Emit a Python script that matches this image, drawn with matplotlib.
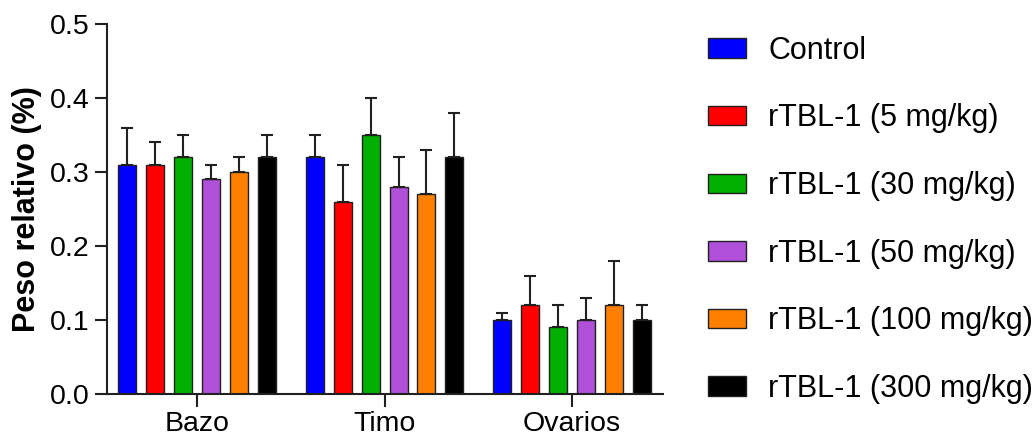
import numpy as np
import matplotlib
matplotlib.use("Agg")
import matplotlib.pyplot as plt

plt.rcParams['font.family'] = ['Liberation Sans', 'DejaVu Sans']

organos = ["Bazo", "Timo", "Ovarios"]
grupos = ["Control", "rTBL-1 (5 mg/kg)", "rTBL-1 (30 mg/kg)",
          "rTBL-1 (50 mg/kg)", "rTBL-1 (100 mg/kg)", "rTBL-1 (300 mg/kg)"]
colores = ["#0000FF", "#FF0000", "#00B000", "#B050D8", "#FF8000", "#000000"]

# media por grupo (filas) y organo (columnas)
medias = [[0.31, 0.32, 0.10],
          [0.31, 0.26, 0.12],
          [0.32, 0.35, 0.09],
          [0.29, 0.28, 0.10],
          [0.30, 0.27, 0.12],
          [0.32, 0.32, 0.10]]
# desviacion (solo hacia arriba)
errores = [[0.05, 0.03, 0.01],
           [0.03, 0.05, 0.04],
           [0.03, 0.05, 0.03],
           [0.02, 0.04, 0.03],
           [0.02, 0.06, 0.06],
           [0.03, 0.06, 0.02]]

fig = plt.figure(figsize=(10.36, 4.38), dpi=100)
ax = fig.add_axes([0.1033, 0.1005, 0.5367, 0.8445])

x = np.arange(len(organos))
paso = 0.149
ancho = 0.096
for i in range(len(grupos)):
    pos = x + (i - 2.5) * paso
    ax.bar(pos, medias[i], width=ancho, color=colores[i], edgecolor="#202020",
           linewidth=1.0, label=grupos[i], zorder=2)
    ax.errorbar(pos, medias[i], yerr=[np.zeros(3), errores[i]], fmt="none",
                ecolor="#202020", elinewidth=1.5, capsize=4, capthick=1.5, zorder=1)

ax.set_xlim(-0.48, 2.485)
ax.set_ylim(0, 0.5)
ax.set_yticks([0.0, 0.1, 0.2, 0.3, 0.4, 0.5])
ax.set_yticklabels(["0.0", "0.1", "0.2", "0.3", "0.4", "0.5"])
ax.set_xticks(x)
ax.set_xticklabels(organos)
ax.tick_params(axis="both", labelsize=20.5, width=1.5, color="#202020", length=9)
ax.tick_params(axis="x", pad=3)
ax.set_ylabel("Peso relativo (%)", fontsize=22, fontweight="bold", labelpad=6)

for s in ["top", "right"]:
    ax.spines[s].set_visible(False)
for s in ["left", "bottom"]:
    ax.spines[s].set_linewidth(1.5)
    ax.spines[s].set_color("#202020")

fig.legend(loc="upper left", bbox_to_anchor=(0.683, 0.918), frameon=False,
           fontsize=22, handlelength=1.27, handleheight=0.6, handletextpad=0.72,
           labelspacing=1.23, borderpad=0, borderaxespad=0)

fig.savefig("out.png", dpi=100)
